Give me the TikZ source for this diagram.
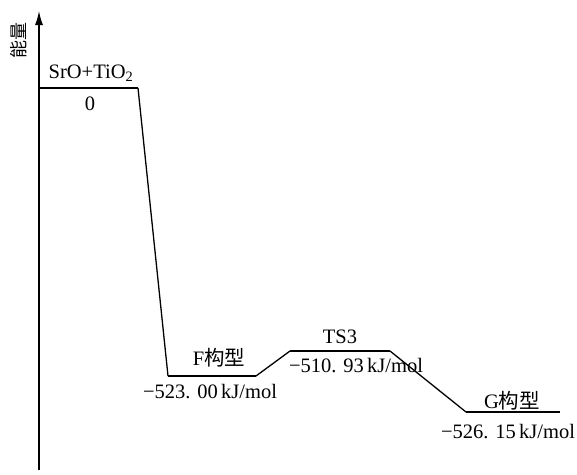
\documentclass[tikz,border=0pt]{standalone}
\usepackage{fontspec}
\setmainfont{Liberation Serif}
\newfontfamily\cjk{Noto Sans CJK SC}
\usetikzlibrary{arrows.meta}
\begin{document}
\begin{tikzpicture}[x=1pt,y=-1pt,
  lvl/.style={line width=1.3pt},
  conn/.style={line width=1.3pt},
  lbl/.style={font=\fontsize{20.5}{23}\selectfont, inner sep=0pt}]
\useasboundingbox (0,0) rectangle (577,474);
% axis
\coordinate (ax0) at (39,470);
\coordinate (ax1) at (39,11);
\draw[line width=1.3pt,-{Latex[length=14pt,width=8pt]}] (ax0) -- (ax1);
\node[lbl,rotate=90,font=\fontsize{18}{20}\selectfont] (ylab) at (19,40) {\cjk 能量};
% levels
\coordinate (a1) at (39,88); \coordinate (a2) at (138,88);
\coordinate (b1) at (168,376); \coordinate (b2) at (256,376);
\coordinate (c1) at (290,351); \coordinate (c2) at (390,351);
\coordinate (d1) at (466,412); \coordinate (d2) at (560,412);
\draw[lvl] (a1) -- (a2);
\draw[lvl] (b1) -- (b2);
\draw[lvl] (c1) -- (c2);
\draw[lvl] (d1) -- (d2);
\draw[conn] (a2) -- (b1);
\draw[conn] (b2) -- (c1);
\draw[conn] (c2) -- (d1);
% labels
\node[lbl] (t0) at (91,73) {SrO+TiO\textsubscript{2}};
\node[lbl] (v0) at (90,104) {0};
\node[lbl] (tF) at (219,358) {F\cjk 构型};
\node[lbl] (vF) at (210,392) {−523.\,\,00\,kJ/mol};
\node[lbl] (tT) at (340,337) {TS3};
\node[lbl] (vT) at (356,366) {−510.\,\,93\,kJ/mol};
\node[lbl] (tG) at (512,401) {G\cjk 构型};
\node[lbl] (vG) at (508,432) {−526.\,\,15\,kJ/mol};
\end{tikzpicture}
\end{document}
